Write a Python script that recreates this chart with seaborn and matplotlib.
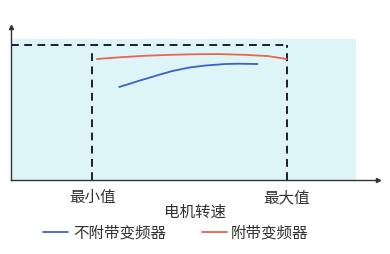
import numpy as np
import pandas as pd
import matplotlib
matplotlib.use("Agg")
import matplotlib.pyplot as plt
import seaborn as sns
from matplotlib.patches import Rectangle
from matplotlib.lines import Line2D

# ---- data (x = motor speed %, y = relative value %) ----
series_names = ["不附带变频器", "附带变频器"]
blue_x = [29.5, 35.1, 39.7, 43.9, 48.8, 52.9, 58.3, 61.9, 67.2]
blue_y = [60.8, 65.0, 68.3, 71.2, 73.6, 74.8, 75.8, 76.0, 75.8]
red_x = [23.4, 29.7, 36.5, 43.3, 50.1, 56.9, 63.8, 70.0, 75.1]
red_y = [79.1, 80.2, 81.2, 81.8, 82.2, 82.3, 81.8, 81.0, 79.1]
tick_labels = ["最小值", "最大值"]
speed_min = 22.1
speed_max = 75.2
y_ref = 88.2
x_label = "电机转速"

sns.set_style("white")
plt.rcParams["font.family"] = ["Noto Sans CJK SC", "DejaVu Sans"]

df = pd.DataFrame({
    "x": blue_x + red_x,
    "y": blue_y + red_y,
    "series": [series_names[0]] * len(blue_x) + [series_names[1]] * len(red_x),
})

fig = plt.figure(figsize=(3.9, 2.54), dpi=100)
ax = fig.add_axes([11 / 390, 74 / 254, 367 / 390, 153 / 254])
ax.set_xlim(0, 100)
ax.set_ylim(0, 100)

# light cyan background region
ax.add_patch(Rectangle((0, 0), 94.0, 92.2, facecolor="#def5f8", edgecolor="none", zorder=0))

dash_col = "#1c1f33"
ax.plot([0, speed_max], [y_ref, y_ref], color=dash_col, lw=1.4, ls=(0, (4, 2.8)), zorder=2)
ax.plot([speed_min, speed_min], [0, 85.0], color=dash_col, lw=1.4, ls=(0, (4, 2.8)), zorder=2)
ax.plot([speed_max, speed_max], [0, y_ref], color=dash_col, lw=1.4, ls=(0, (4, 2.8)), zorder=2)

palette = {series_names[0]: "#3a63c4", series_names[1]: "#e8654e"}
sns.lineplot(data=df, x="x", y="y", hue="series", palette=palette, ax=ax,
             linewidth=1.3, legend=False, zorder=3, sort=True, estimator=None)

# spines with arrows
for s in ["top", "right"]:
    ax.spines[s].set_visible(False)
for s in ["left", "bottom"]:
    ax.spines[s].set_color("#333333")
    ax.spines[s].set_linewidth(1.0)
ax.plot(1, 0, ">", color="#333333", markersize=3, transform=ax.transAxes, clip_on=False)
ax.plot(0, 1, "^", color="#333333", markersize=3, transform=ax.transAxes, clip_on=False)

ax.set_xticks([speed_min, speed_max])
ax.set_xticklabels(tick_labels, fontsize=11.2, color="#333333")
ax.tick_params(axis="x", length=0, pad=6.5)
ax.set_yticks([])
ax.set_xlabel(x_label, fontsize=11.2, color="#333333", labelpad=-2)
ax.set_ylabel("")

handles = [Line2D([], [], color=palette[n], lw=1.3) for n in series_names]
fig.legend(handles, series_names, loc="center", bbox_to_anchor=(176 / 390, 21 / 254),
           ncol=2, frameon=False, fontsize=11.2, handlelength=1.6, handletextpad=0.3,
           columnspacing=2.3, labelcolor="#333333", borderaxespad=0, borderpad=0)

fig.savefig("out.png", dpi=100)
